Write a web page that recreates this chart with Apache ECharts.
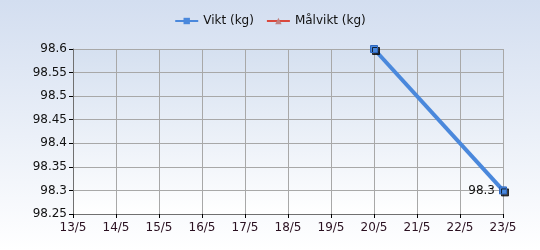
<!DOCTYPE html>
<html><head><meta charset="utf-8">
<script src="https://cdn.jsdelivr.net/npm/echarts@6/dist/echarts.min.js"></script>
<style>html,body{margin:0;padding:0;}#c{width:540px;height:250px;}</style>
</head><body><div id="c"></div>
<script>
const xTicks = [13,14,15,16,17,18,19,20,21,22,23];
const viktDays = [20, 23];
const viktValues = [98.6, 98.3];
const malviktDays = [];
const malviktValues = [];
const seriesNames = ['Vikt (kg)', 'Målvikt (kg)'];

const chart = echarts.init(document.getElementById('c'), null, {renderer:'canvas'});
const font = 'DejaVu Sans';
chart.setOption({
  backgroundColor: {type:'linear', x:0, y:0, x2:0, y2:1, colorStops:[{offset:0,color:'#d3def0'},{offset:1,color:'#ffffff'}]},
  animation:false,
  legend:{
    top:10, left:'center', itemWidth:23, itemHeight:8, itemGap:12,
    textStyle:{fontFamily:font, fontSize:12, color:'#111'},
    data:[
      {name:seriesNames[0], itemStyle:{borderWidth:0, shadowBlur:0, shadowOffsetX:0, shadowOffsetY:0}},
      {name:seriesNames[1], itemStyle:{borderWidth:0}}
    ]
  },
  grid:{left:73, right:37, top:49, bottom:36, show:true, borderWidth:0,
    backgroundColor:{type:'linear', x:0, y:0, x2:0, y2:1, colorStops:[{offset:0,color:'#d5e0f0'},{offset:1,color:'#ffffff'}]}},
  xAxis:{
    type:'value', min:xTicks[0], max:xTicks[xTicks.length-1], interval:1,
    axisLine:{show:true, onZero:false, lineStyle:{color:'#707070'}},
    axisTick:{show:true, length:4, lineStyle:{color:'#000'}},
    axisLabel:{fontFamily:font, fontSize:12, color:'#2a1020', margin:8, formatter:v=>v+'/5'},
    splitLine:{show:true, lineStyle:{color:'#a8a8a8'}}
  },
  yAxis:{
    type:'value', min:98.25, max:98.6, interval:0.05,
    axisLine:{show:true, lineStyle:{color:'#707070'}},
    axisTick:{show:true, length:4, lineStyle:{color:'#000'}},
    axisLabel:{fontFamily:font, fontSize:12, color:'#111', margin:6, formatter:v=>String(parseFloat(v.toFixed(2)))},
    splitLine:{show:true, lineStyle:{color:'#a8a8a8'}}
  },
  series:[
    {name:seriesNames[0], type:'line', data:viktDays.map((d,i)=>[d,viktValues[i]]),
     lineStyle:{color:'#4a88dc', width:4},
     symbol:'rect', symbolSize:7,
     itemStyle:{color:'#4a88dc', borderColor:'#2f68c0', borderWidth:1, shadowColor:'rgba(0,0,0,0.75)', shadowOffsetX:2, shadowOffsetY:2},
     label:{show:true, position:'left', distance:4, fontFamily:font, fontSize:12, color:'#111',
       formatter:p=>p.dataIndex===viktDays.length-1?String(p.value[1]):''}
    },
    {name:seriesNames[1], type:'line', data:malviktDays.map((d,i)=>[d,malviktValues[i]]),
     symbol:'triangle', symbolSize:6,
     lineStyle:{color:'#d9493e', width:4}, itemStyle:{color:'#c08080'}}
  ]
});
</script></body></html>
